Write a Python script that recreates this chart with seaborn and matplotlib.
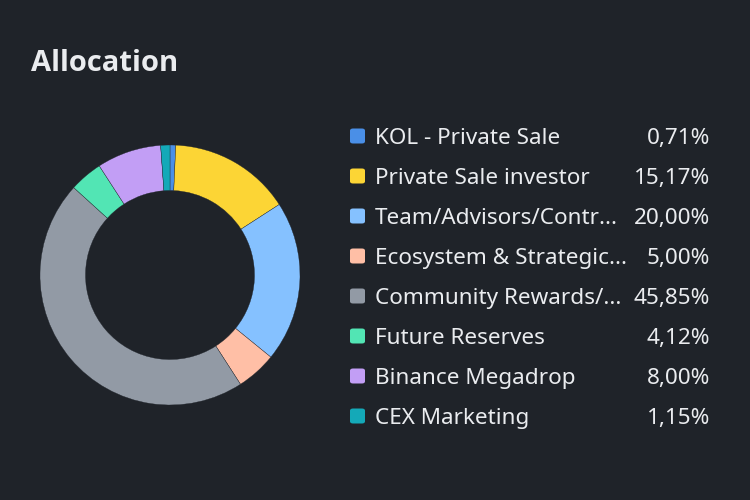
import matplotlib
matplotlib.use("Agg")
import matplotlib.pyplot as plt
from matplotlib.patches import FancyBboxPatch
import seaborn as sns

# data
labels = ["KOL - Private Sale", "Private Sale investor", "Team/Advisors/Contr...",
          "Ecosystem & Strategic...", "Community Rewards/...", "Future Reserves",
          "Binance Megadrop", "CEX Marketing"]
values = [0.71, 15.17, 20.00, 5.00, 45.85, 4.12, 8.00, 1.15]
pct_labels = ["0,71%", "15,17%", "20,00%", "5,00%", "45,85%", "4,12%", "8,00%", "1,15%"]
colors = ["#4A8FE7", "#FCD535", "#85C1FF", "#FFBFA6", "#929AA5", "#52E5B4", "#C29EF5", "#14A9B8"]

BG = "#1F2329"
TXT = "#EAECEF"

sns.set_theme(style="white")
plt.rcParams["font.family"] = ["Noto Sans", "DejaVu Sans"]

W, H = 750, 500
fig = plt.figure(figsize=(7.5, 5), dpi=100, facecolor=BG)

def fx(x):
    return x / W

def fy(y):
    return 1 - y / H

fig.text(fx(31), fy(71), "Allocation", color=TXT, fontsize=21,
         fontweight="bold", family=["Open Sans", "DejaVu Sans"], va="baseline")

# donut
cx, cy, r = 170, 275, 130
ax = fig.add_axes([fx(cx - r), fy(cy + r), 2 * r / W, 2 * r / H])
ax.set_facecolor(BG)
ax.pie(values, colors=colors, startangle=90, counterclock=False, radius=1,
       wedgeprops=dict(width=0.35, edgecolor=BG, linewidth=0.25))
ax.set_xlim(-1, 1)
ax.set_ylim(-1, 1)
ax.set_aspect("equal")
ax.axis("off")

# legend
for i, (lab, pct, col) in enumerate(zip(labels, pct_labels, colors)):
    yc = 136 + 40 * i
    sq = FancyBboxPatch((fx(350), fy(yc + 7.5)), 15 / W, 15 / H,
                        boxstyle="round,pad=0,rounding_size=0.004",
                        transform=fig.transFigure, facecolor=col, edgecolor="none")
    fig.patches.append(sq)
    fig.text(fx(375), fy(yc + 8), lab, color=TXT, fontsize=16.2, va="baseline", ha="left")
    fig.text(fx(710), fy(yc + 8), pct, color=TXT, fontsize=16.2, va="baseline", ha="right")

fig.savefig("out.png", dpi=100, facecolor=BG)
